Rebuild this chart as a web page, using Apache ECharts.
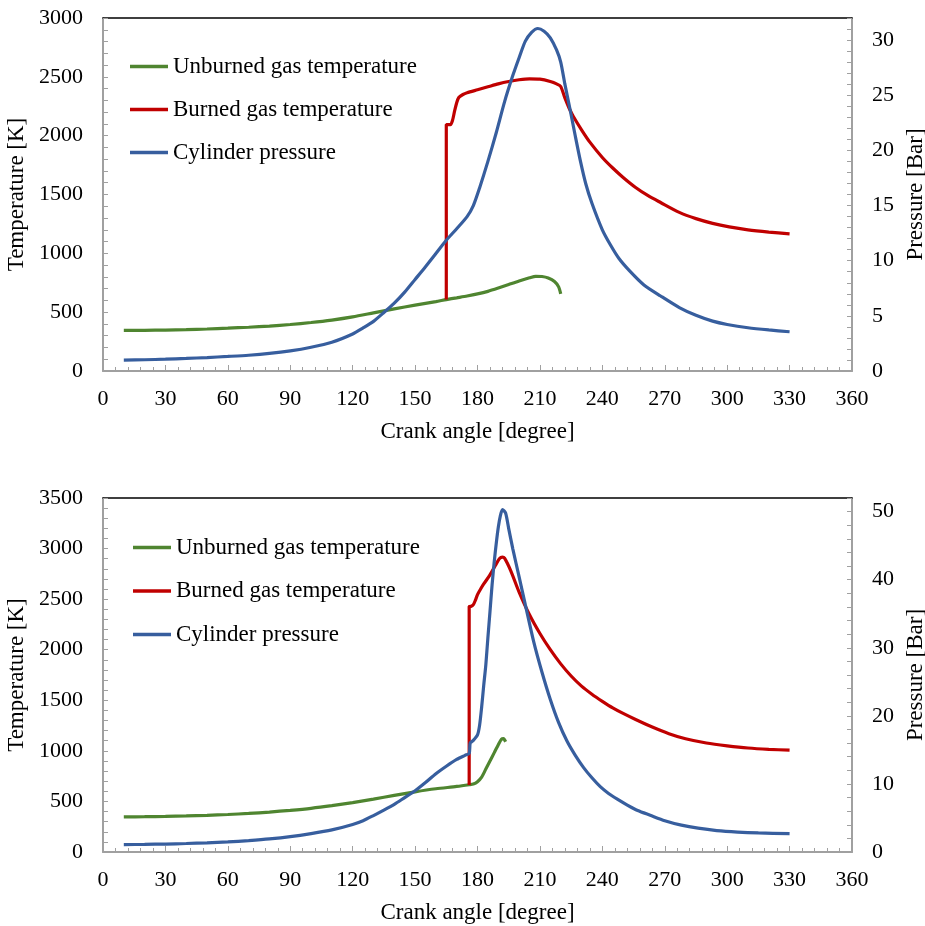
<!DOCTYPE html>
<html>
<head>
<meta charset="utf-8">
<script src="https://cdn.jsdelivr.net/npm/echarts@6/dist/echarts.min.js"></script>
<style>
html,body{margin:0;padding:0;background:#fff;}
#chart{width:925px;height:926px;}
</style>
</head>
<body>
<div id="chart"></div>
<script>
// ---------- Data ----------
const seriesNames = ['Unburned gas temperature', 'Burned gas temperature', 'Cylinder pressure'];

// Top chart
const topUnburnedAngle = [10,20,30,40,50,60,70,80,90,100,110,120,130,140,150,160,165,170,175,180,185,190,195,200,205,208,211,214,217,219,220];
const topUnburnedTemp  = [345,346,348,352,357,364,372,382,395,412,433,460,494,528,560,590,607,622,637,655,677,705,735,765,792,805,803,790,760,715,655];

const topBurnedAngle = [165,165,167,168,169,170,171,173,175,180,185,190,195,200,205,210,215,218,220,222,224,226,230,234,240,245,250,256,262,268,277,285,293,301,310,320,330];
const topBurnedTemp  = [607,2094,2094,2130,2210,2280,2325,2350,2365,2390,2415,2440,2460,2475,2483,2480,2460,2440,2418,2320,2235,2165,2050,1945,1815,1725,1645,1560,1490,1432,1348,1295,1255,1225,1200,1181,1166];

const topPressureAngle = [10,20,30,40,50,60,70,80,90,100,110,120,125,130,135,140,145,150,155,160,165,170,175,178,181,185,189,193,197,200,203,206,209,212,215,218,220,222,224.5,227,229.5,232,235,240,244,248,253,260,268,277,285,293,300,310,320,330];
const topPressureBar   = [0.99,1.02,1.07,1.14,1.22,1.32,1.43,1.59,1.82,2.15,2.6,3.35,3.9,4.5,5.3,6.15,7.15,8.3,9.45,10.65,11.85,12.9,14.0,15.0,16.6,19.0,21.6,24.4,26.8,28.4,29.9,30.7,31.05,30.8,30.2,29.1,28.0,26.0,23.7,21.3,19.0,17.0,15.2,12.8,11.4,10.2,9.1,7.8,6.8,5.75,5.05,4.52,4.22,3.92,3.72,3.56];

// Bottom chart
const botUnburnedAngle = [10,20,30,40,50,60,70,80,90,100,110,120,130,140,150,160,170,176,178,180,182,184,186,188,190,191.5,192.5,193.5];
const botUnburnedTemp  = [347,349,352,357,363,371,381,395,412,432,458,488,523,560,595,625,648,665,672,695,740,820,900,980,1060,1115,1120,1090];

const botBurnedAngle = [176,176,177,178,179,180,181.5,183,186,188.5,190.5,192,193,196,200,205,210,215,220,225,230,235,240,245,250,256,264,272,280,290,300,310,320,330];
const botBurnedTemp  = [662,2427,2430,2445,2490,2545,2600,2650,2740,2830,2900,2915,2905,2780,2570,2345,2160,2000,1860,1740,1640,1560,1490,1425,1370,1310,1235,1170,1120,1078,1050,1028,1015,1007];

const botPressureAngle = [10,20,30,40,50,60,70,80,90,100,110,120,125,130,135,140,145,150,155,160,165,170,174,176,176.5,178,180,181,182,183,184,185,186,187,188,189,190,191,192,193.5,195,197,200,203,207,211,215,219,223,227,231,235,239,243,247,252,257,263,270,278,286,295,305,315,330];
const botPressureBar   = [1.09,1.12,1.17,1.25,1.35,1.48,1.68,1.92,2.25,2.7,3.25,4.05,4.6,5.35,6.15,7.0,8.0,9.0,10.2,11.5,12.6,13.6,14.2,14.5,16.0,16.4,17.2,18.6,21.3,24.5,27.5,31.5,35.3,39.2,42.5,45.3,47.7,49.4,50.3,49.8,47.5,44.5,40.4,36.3,30.9,26.4,22.4,19.0,16.3,14.2,12.4,10.9,9.6,8.6,7.8,6.9,6.1,5.4,4.6,3.95,3.5,3.15,2.93,2.8,2.7];

// Axis ranges / ticks
const xMin = 0, xMax = 360, xStep = 30;
const topTempMax = 3000, topPresMax = 32;
const botTempMax = 3500, botPresMax = 52;

// ---------- Styling ----------
const FONT = 'Liberation Serif';
const AXIS_GREY = '#A0A0A0';
const COLORS = ['#4F8530', '#C00000', '#375E9E'];

function zip(a, b) { return a.map((x, i) => [x, b[i]]); }

const tickText = { fontFamily: FONT, fontSize: 22, color: '#000' };
const bigText = { fontFamily: FONT, fontSize: 23, color: '#000' };

function xAxisBottom(gridIndex) {
  return {
    type: 'value', gridIndex, position: 'bottom', min: xMin, max: xMax, interval: xStep,
    name: 'Crank angle [degree]', nameLocation: 'middle', nameGap: 49,
    nameTextStyle: bigText,
    axisLine: { show: true, onZero: false, lineStyle: { color: AXIS_GREY, width: 2 } },
    axisTick: { show: true, inside: true, length: 6, lineStyle: { color: AXIS_GREY, width: 1 } },
    minorTick: { show: true, splitNumber: 5, length: 4, lineStyle: { color: AXIS_GREY, width: 1 } },
    axisLabel: Object.assign({ margin: 17 }, tickText),
    splitLine: { show: false }
  };
}
function xAxisTop(gridIndex) {
  return {
    type: 'value', gridIndex, position: 'top', min: xMin, max: xMax,
    axisLine: { show: true, onZero: false, lineStyle: { color: '#000', width: 1.5 } },
    axisTick: { show: false }, axisLabel: { show: false }, splitLine: { show: false }
  };
}
function yAxisLeft(gridIndex, max) {
  return {
    type: 'value', gridIndex, position: 'left', min: 0, max: max, interval: 100,
    name: 'Temperature [K]', nameLocation: 'middle', nameGap: 62, nameRotate: 90,
    nameTextStyle: bigText,
    axisLine: { show: true, onZero: false, lineStyle: { color: AXIS_GREY, width: 2 } },
    axisTick: { show: true, inside: true, length: 5, lineStyle: { color: AXIS_GREY, width: 1 } },
    axisLabel: Object.assign({ margin: 20, formatter: v => (v % 500 === 0 ? String(v) : '') }, tickText),
    splitLine: { show: false }
  };
}
function yAxisRight(gridIndex, max, step, labelEvery) {
  return {
    type: 'value', gridIndex, position: 'right', min: 0, max: max, interval: step,
    name: 'Pressure [Bar]', nameLocation: 'middle', nameGap: 52, nameRotate: 90,
    nameTextStyle: bigText,
    axisLine: { show: true, onZero: false, lineStyle: { color: AXIS_GREY, width: 2 } },
    axisTick: { show: true, inside: true, length: 5, lineStyle: { color: AXIS_GREY, width: 1 } },
    axisLabel: Object.assign({ margin: 20, formatter: v => (Math.abs(v % labelEvery) < 1e-9 ? String(v) : '') }, tickText),
    splitLine: { show: false }
  };
}
function line(name, xi, yi, data, color) {
  return {
    name, type: 'line', xAxisIndex: xi, yAxisIndex: yi, data, symbol: 'none',
    smooth: 0.25, animation: false,
    lineStyle: { color, width: 3.2 }, itemStyle: { color }
  };
}
function legendData() {
  return seriesNames.map(n => ({ name: n, icon: 'rect' }));
}

const chart = echarts.init(document.getElementById('chart'), null, { renderer: 'canvas' });
chart.setOption({
  animation: false,
  backgroundColor: '#fff',
  grid: [
    { left: 103, top: 18, width: 749, height: 353, outerBoundsMode: 'none', containLabel: false },
    { left: 103, top: 498, width: 749, height: 354, outerBoundsMode: 'none', containLabel: false }
  ],
  legend: [
    { data: legendData(), orient: 'vertical', left: 130, top: 55, padding: 0, itemWidth: 38, itemHeight: 3.5, itemGap: 20,
      selectedMode: false, textStyle: bigText },
    { data: legendData(), orient: 'vertical', left: 133, top: 536, padding: 0, itemWidth: 38, itemHeight: 3.5, itemGap: 20.5,
      selectedMode: false, textStyle: bigText }
  ],
  xAxis: [xAxisBottom(0), xAxisTop(0), xAxisBottom(1), xAxisTop(1)],
  yAxis: [yAxisLeft(0, topTempMax), yAxisRight(0, topPresMax, 1, 5), yAxisLeft(1, botTempMax), yAxisRight(1, botPresMax, 2, 10)],
  series: [
    line(seriesNames[0], 0, 0, zip(topUnburnedAngle, topUnburnedTemp), COLORS[0]),
    line(seriesNames[1], 0, 0, zip(topBurnedAngle, topBurnedTemp), COLORS[1]),
    line(seriesNames[2], 0, 1, zip(topPressureAngle, topPressureBar), COLORS[2]),
    line(seriesNames[0], 2, 2, zip(botUnburnedAngle, botUnburnedTemp), COLORS[0]),
    line(seriesNames[1], 2, 2, zip(botBurnedAngle, botBurnedTemp), COLORS[1]),
    line(seriesNames[2], 2, 3, zip(botPressureAngle, botPressureBar), COLORS[2])
  ]
});
</script>
</body>
</html>
